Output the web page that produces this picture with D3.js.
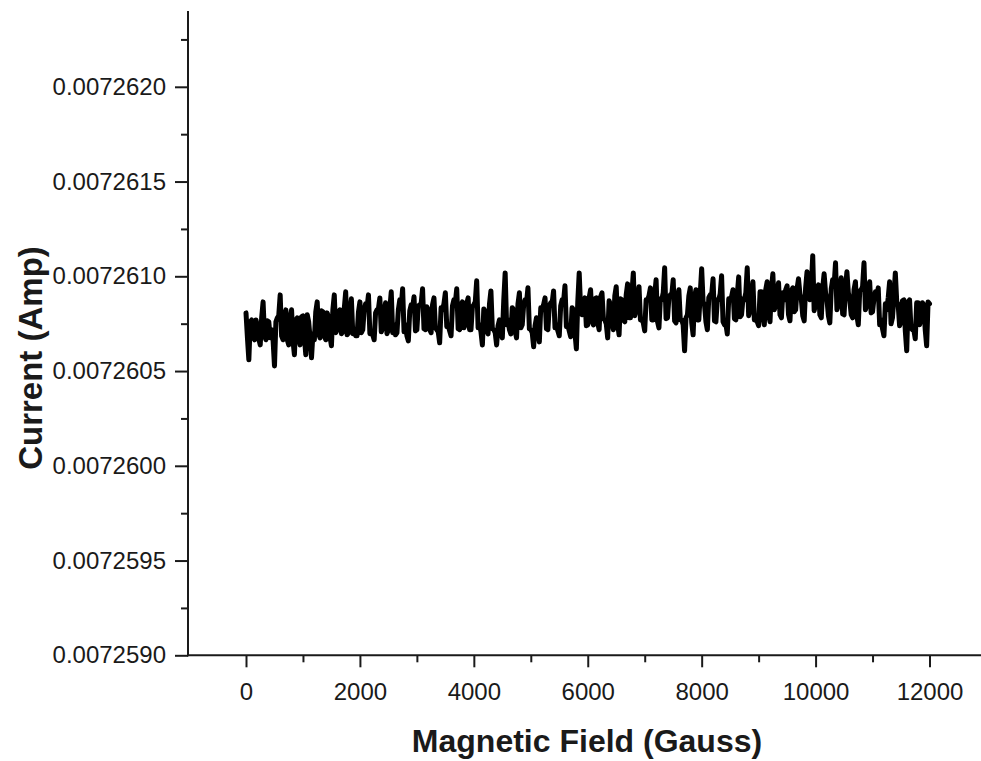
<!DOCTYPE html>
<html>
<head>
<meta charset="utf-8">
<script src="https://cdn.jsdelivr.net/npm/d3@7"></script>
<style>
  html, body { margin: 0; padding: 0; background: #ffffff; }
  svg { display: block; }
  text { font-family: "Liberation Sans", Arial, Helvetica, sans-serif; fill: #1a1a1a; }
</style>
</head>
<body>
<svg id="chart" width="981" height="761"></svg>
<script>
// ---- data ----
// magnetic field sampled every 25 G from 0 to 12000 G
const fieldStartGauss = 0;
const fieldStepGauss = 25;
// measured current, in microamps (0.0072607 A = 7260.7 uA)
const currentMicroAmp = [
  7260.807,7260.676,7260.559,7260.760,7260.770,7260.681,7260.665,7260.770,7260.739,7260.670,
  7260.638,7260.781,7260.865,7260.686,7260.665,7260.765,7260.760,7260.676,7260.718,7260.665,
  7260.527,7260.760,7260.781,7260.792,7260.902,7260.686,7260.665,7260.781,7260.823,7260.665,
  7260.638,7260.776,7260.823,7260.660,7260.586,7260.770,7260.781,7260.676,7260.638,7260.786,
  7260.791,7260.681,7260.586,7260.797,7260.760,7260.676,7260.570,7260.697,7260.665,7260.813,
  7260.865,7260.697,7260.675,7260.818,7260.813,7260.686,7260.665,7260.807,7260.781,7260.681,
  7260.633,7260.823,7260.902,7260.702,7260.718,7260.813,7260.823,7260.697,7260.707,7260.828,
  7260.918,7260.691,7260.702,7260.818,7260.881,7260.697,7260.718,7260.686,7260.686,7260.813,
  7260.865,7260.702,7260.718,7260.823,7260.855,7260.834,7260.902,7260.697,7260.707,7260.691,
  7260.665,7260.807,7260.823,7260.828,7260.886,7260.707,7260.728,7260.818,7260.860,7260.697,
  7260.718,7260.828,7260.918,7260.702,7260.744,7260.691,7260.702,7260.823,7260.876,7260.839,
  7260.934,7260.707,7260.744,7260.686,7260.659,7260.818,7260.850,7260.834,7260.892,7260.712,
  7260.718,7260.844,7260.850,7260.855,7260.934,7260.723,7260.718,7260.839,7260.823,7260.718,
  7260.702,7260.850,7260.886,7260.728,7260.718,7260.707,7260.649,7260.834,7260.823,7260.855,
  7260.913,7260.734,7260.744,7260.712,7260.686,7260.844,7260.876,7260.860,7260.934,7260.723,
  7260.718,7260.850,7260.865,7260.728,7260.744,7260.855,7260.886,7260.718,7260.718,7260.839,
  7260.850,7260.865,7260.976,7260.728,7260.744,7260.707,7260.638,7260.828,7260.813,7260.718,
  7260.696,7260.855,7260.923,7260.723,7260.718,7260.702,7260.638,7260.739,7260.770,7260.712,
  7260.675,7260.871,7261.018,7260.744,7260.770,7260.718,7260.696,7260.834,7260.823,7260.712,
  7260.675,7260.855,7260.913,7260.728,7260.744,7260.850,7260.876,7260.860,7260.939,7260.723,
  7260.718,7260.702,7260.628,7260.739,7260.781,7260.707,7260.654,7260.834,7260.823,7260.850,
  7260.886,7260.723,7260.718,7260.844,7260.860,7260.860,7260.923,7260.728,7260.744,7260.712,
  7260.686,7260.844,7260.876,7260.865,7260.950,7260.734,7260.744,7260.712,7260.681,7260.834,
  7260.823,7260.702,7260.617,7260.865,7261.018,7260.828,7260.797,7260.855,7260.886,7260.739,
  7260.744,7260.887,7260.929,7260.765,7260.744,7260.881,7260.886,7260.755,7260.718,7260.892,
  7260.913,7260.776,7260.770,7260.749,7260.675,7260.871,7260.850,7260.760,7260.718,7260.897,
  7260.945,7260.749,7260.691,7260.881,7260.876,7260.770,7260.760,7260.902,7260.960,7260.781,
  7260.781,7260.908,7261.018,7260.792,7260.823,7260.892,7260.945,7260.770,7260.770,7260.755,
  7260.712,7260.876,7260.876,7260.897,7260.939,7260.770,7260.770,7260.902,7260.982,7260.760,
  7260.728,7260.881,7260.876,7260.913,7261.045,7260.776,7260.781,7260.887,7260.902,7260.902,
  7260.982,7260.765,7260.754,7260.892,7260.929,7260.770,7260.770,7260.744,7260.607,7260.781,
  7260.797,7260.897,7260.939,7260.755,7260.691,7260.892,7260.929,7260.770,7260.770,7260.908,
  7261.040,7260.865,7260.850,7260.760,7260.718,7260.887,7260.902,7260.902,7260.987,7260.765,
  7260.760,7260.876,7260.876,7260.908,7261.003,7260.760,7260.744,7260.749,7260.696,7260.881,
  7260.876,7260.892,7260.929,7260.776,7260.770,7260.902,7260.997,7260.786,7260.797,7260.881,
  7260.876,7260.913,7261.045,7260.792,7260.823,7260.897,7260.971,7260.770,7260.770,7260.760,
  7260.739,7260.918,7260.918,7260.792,7260.744,7260.929,7260.971,7260.797,7260.760,7260.934,
  7261.013,7260.823,7260.850,7260.929,7260.966,7260.797,7260.781,7260.913,7260.876,7260.929,
  7260.950,7260.797,7260.765,7260.923,7260.939,7260.813,7260.823,7260.934,7260.987,7260.908,
  7260.876,7260.792,7260.765,7260.939,7261.024,7260.918,7260.876,7260.950,7261.108,7260.818,
  7260.850,7260.929,7260.955,7260.797,7260.781,7260.939,7261.013,7260.913,7260.876,7260.792,
  7260.754,7260.934,7260.982,7260.950,7261.071,7260.823,7260.850,7260.939,7260.992,7260.802,
  7260.797,7260.939,7261.024,7260.913,7260.876,7260.797,7260.781,7260.929,7260.971,7260.792,
  7260.744,7260.923,7260.929,7260.945,7261.071,7260.823,7260.850,7260.929,7260.971,7260.807,
  7260.813,7260.881,7260.918,7260.892,7260.939,7260.744,7260.770,7260.723,7260.686,7260.855,
  7260.823,7260.887,7260.971,7260.749,7260.781,7260.892,7261.018,7260.865,7260.850,7260.739,
  7260.760,7260.871,7260.876,7260.712,7260.607,7260.865,7260.876,7260.728,7260.718,7260.718,
  7260.670,7260.860,7260.860,7260.744,7260.770,7260.860,7260.850,7260.718,7260.633,7260.865,
  7260.855
];
// axis tick values
const xMajorTicks = [0, 2000, 4000, 6000, 8000, 10000, 12000];
const xMinorTicks = [1000, 3000, 5000, 7000, 9000, 11000];
const yMajorTicksMicroAmp = [7259.0, 7259.5, 7260.0, 7260.5, 7261.0, 7261.5, 7262.0];
const yMinorTicksMicroAmp = [7259.25, 7259.75, 7260.25, 7260.75, 7261.25, 7261.75, 7262.25];
const xTitle = "Magnetic Field (Gauss)";
const yTitle = "Current (Amp)";

// ---- drawing ----
const svg = d3.select("#chart");
const axisX0 = 188, axisY0 = 655.3;

const x = d3.scaleLinear().domain([0, 12000]).range([246, 929.5]);
const y = d3.scaleLinear().domain([7259.0, 7262.4]).range([axisY0, 11]);

const series = currentMicroAmp.map((v, i) => ({ f: fieldStartGauss + i * fieldStepGauss, c: v }));

// data line
svg.append("path")
  .datum(series)
  .attr("fill", "none")
  .attr("stroke", "#000")
  .attr("stroke-width", 5)
  .attr("stroke-linejoin", "round")
  .attr("stroke-linecap", "round")
  .attr("d", d3.line().x(d => x(d.f)).y(d => y(d.c)));

// y axis (major + minor)
const yMajor = svg.append("g").attr("transform", `translate(${axisX0},0)`)
  .call(d3.axisLeft(y).tickValues(yMajorTicksMicroAmp).tickSize(13).tickPadding(9)
    .tickFormat(d => (d / 1e6).toFixed(7)));
const yMinor = svg.append("g").attr("transform", `translate(${axisX0},0)`)
  .call(d3.axisLeft(y).tickValues(yMinorTicksMicroAmp).tickSize(7).tickFormat(""));

// x axis (major + minor)
const xMajor = svg.append("g").attr("transform", `translate(0,${axisY0})`)
  .call(d3.axisBottom(x).tickValues(xMajorTicks).tickSize(12).tickPadding(16).tickFormat(d3.format("d")));
const xMinor = svg.append("g").attr("transform", `translate(0,${axisY0})`)
  .call(d3.axisBottom(x).tickValues(xMinorTicks).tickSize(7).tickFormat(""));

[yMajor, yMinor, xMajor, xMinor].forEach(g => {
  g.select(".domain").remove();
  g.selectAll(".tick line").attr("stroke", "#1a1a1a").attr("stroke-width", 2);
  g.selectAll(".tick text").attr("font-size", 24).attr("fill", "#1a1a1a")
    .attr("font-family", '"Liberation Sans", Arial, sans-serif');
});

// axis lines
svg.append("line").attr("x1", axisX0).attr("x2", axisX0).attr("y1", 11).attr("y2", axisY0 + 1)
  .attr("stroke", "#1a1a1a").attr("stroke-width", 2);
svg.append("line").attr("x1", axisX0 - 1).attr("x2", 981).attr("y1", axisY0).attr("y2", axisY0)
  .attr("stroke", "#1a1a1a").attr("stroke-width", 2);

// titles
svg.append("text")
  .attr("x", 587).attr("y", 752)
  .attr("text-anchor", "middle")
  .attr("font-size", 32).attr("font-weight", "bold")
  .text(xTitle);
svg.append("text")
  .attr("transform", "translate(42,358) rotate(-90)")
  .attr("text-anchor", "middle")
  .attr("font-size", 33).attr("font-weight", "bold")
  .text(yTitle);
</script>
</body>
</html>
